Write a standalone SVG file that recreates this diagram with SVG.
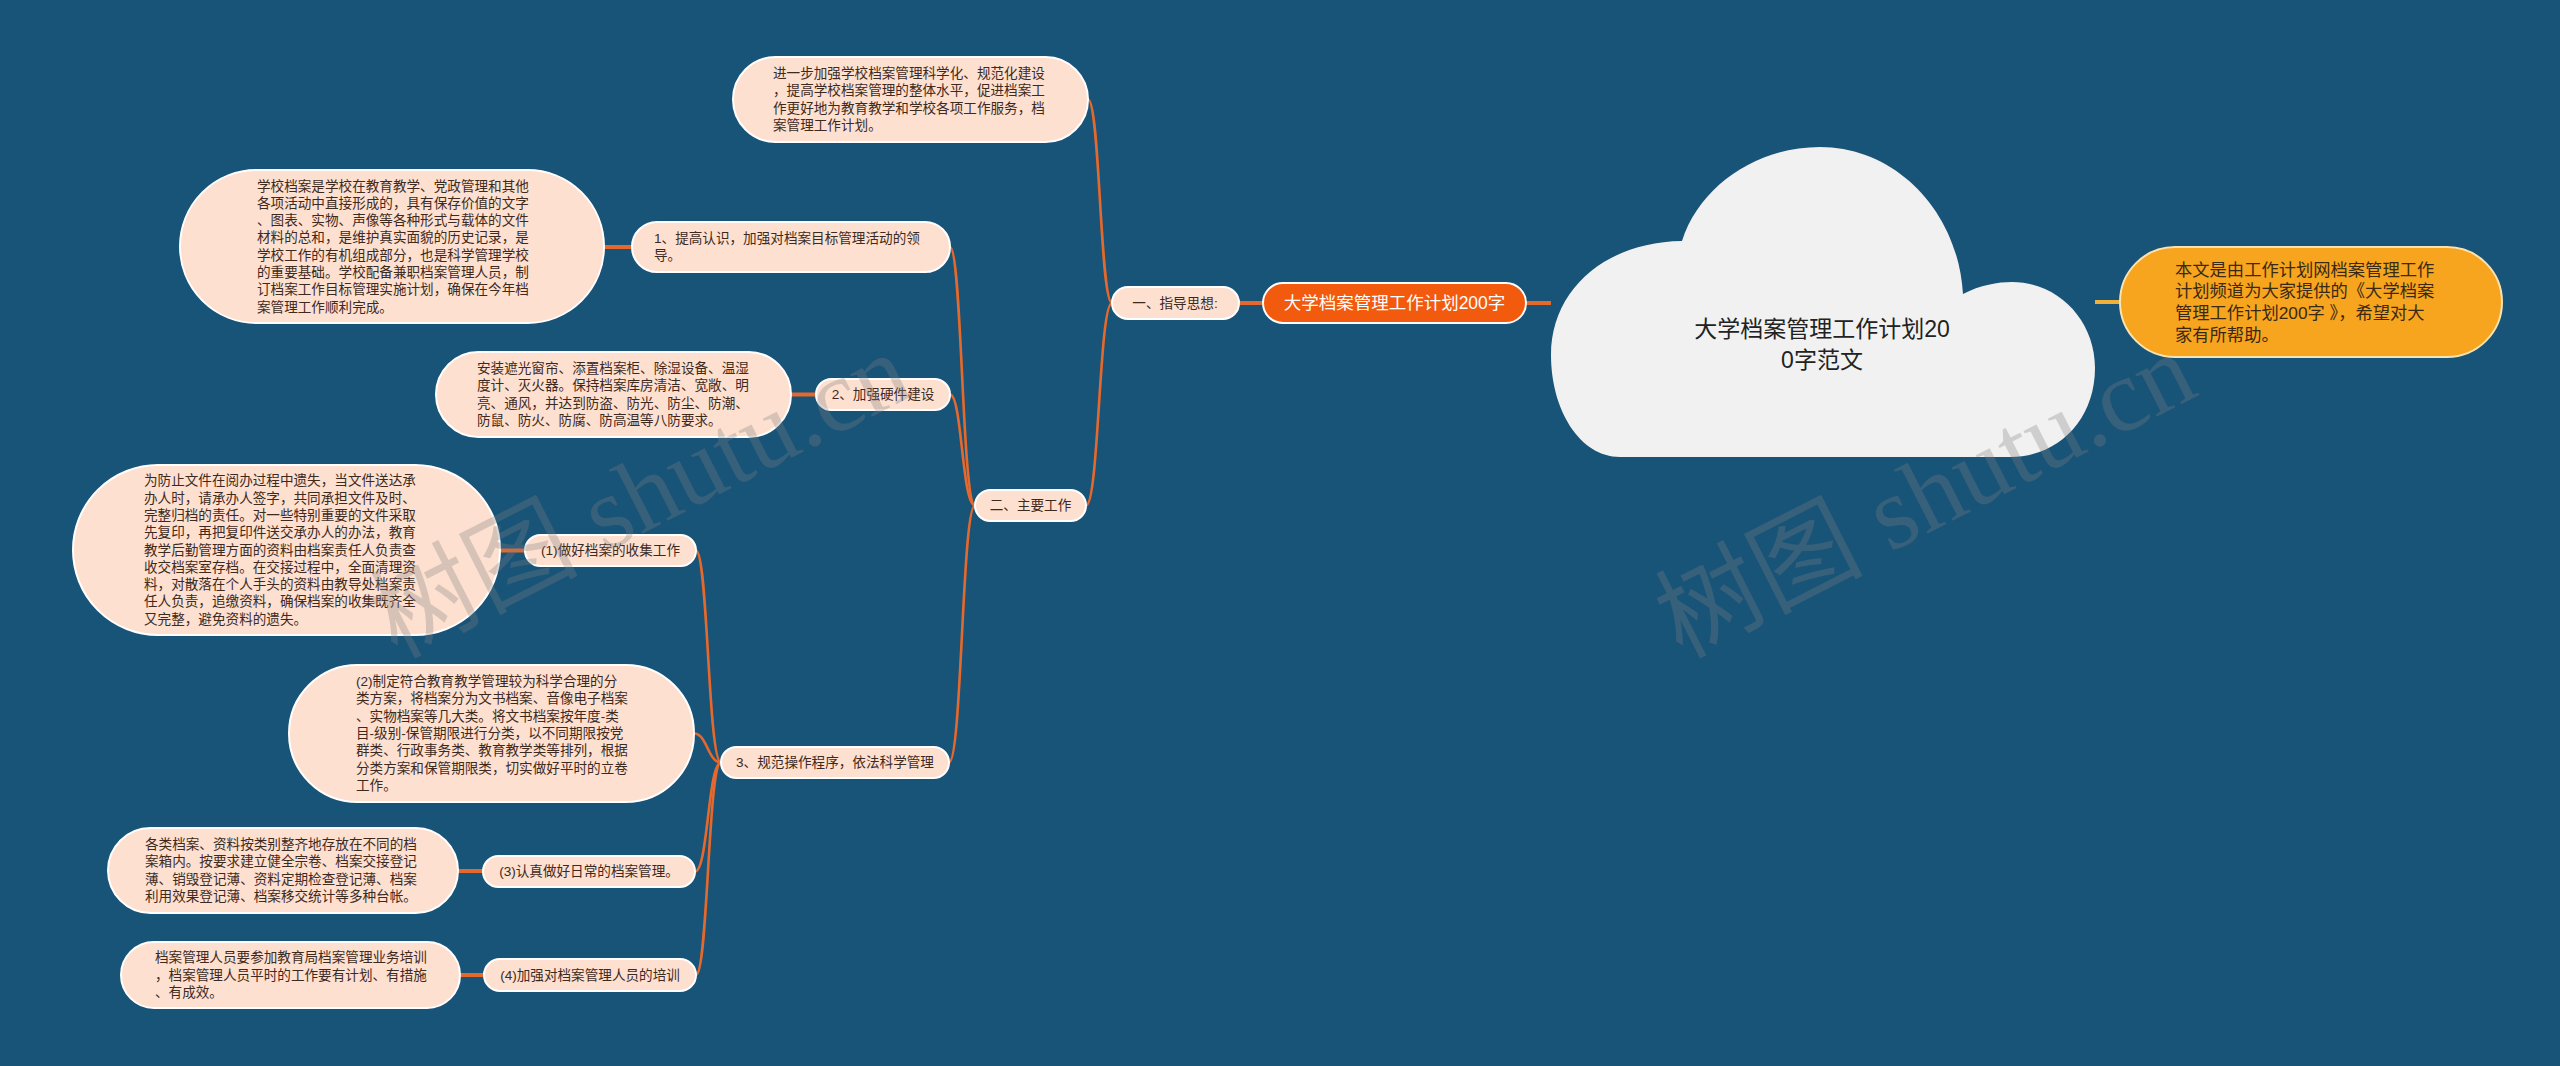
<svg xmlns="http://www.w3.org/2000/svg" width="2560" height="1066" viewBox="0 0 2560 1066">
<style>
text{font-family:"Liberation Sans","Noto Sans CJK SC",sans-serif;dominant-baseline:central}
.pill{fill:#fde0cf;stroke:#ffffff;stroke-width:2}
.t{font-size:13.6px;fill:#3d2a1e}
.tm{font-size:13.6px;fill:#3d2a1e;text-anchor:middle}
.cv{fill:none;stroke:#e5692c;stroke-width:2.6}
.st{fill:none;stroke:#e5692c;stroke-width:4}
.wm{font-family:"Liberation Serif","Noto Sans CJK SC",serif;font-size:104px;fill:#808080;opacity:0.3}
</style>
<rect x="0" y="0" width="2560" height="1066" fill="#185378"/>
<g id="connectors">
<path class="st" d="M1526 303H1551"/>
<path class="st" d="M1239 303H1263"/>
<path class="st" d="M604 247H632"/>
<path class="st" d="M791 394.5H816"/>
<path class="st" d="M500 550.5H525"/>
<path class="st" d="M458 871H483"/>
<path class="st" d="M460 975H484"/>
<path d="M2095 302H2120" fill="none" stroke="#f0b13a" stroke-width="4"/>
<path class="cv" d="M1112 303C1100 303 1100 99.5 1088 99.5"/>
<path class="cv" d="M1112 303C1099 303 1099 505.5 1086 505.5"/>
<path class="cv" d="M975 505.5C962 505.5 962 247 950 247"/>
<path class="cv" d="M975 505.5C962 505.5 962 394.5 950 394.5"/>
<path class="cv" d="M975 505.5C962 505.5 962 762.5 949 762.5"/>
<path class="cv" d="M721 762.5C708 762.5 708 550.5 696 550.5"/>
<path class="cv" d="M721 762.5C708 762.5 707 733.5 694 733.5"/>
<path class="cv" d="M721 762.5C708 762.5 708 871.5 695 871.5"/>
<path class="cv" d="M721 762.5C708 762.5 708 975 696 975"/>
</g>
<g id="root">
<path d="M1620 457C1580 457 1551 410 1551 355C1551 290 1605 242 1682 241C1700 185 1758 147 1820 147C1895 147 1958 210 1963 294C1980 285 1998 282 2012 282C2058 282 2095 320 2095 368C2095 420 2058 457 2010 457Z" fill="#f1f1f1"/>
<text x="1822" y="329" font-size="23" fill="#222" text-anchor="middle">大学档案管理工作计划20</text>
<text x="1822" y="360" font-size="23" fill="#222" text-anchor="middle">0字范文</text>
</g>
<g id="main">
<rect x="1263" y="283" width="263" height="40" rx="20" fill="#f25a0e" stroke="#ffffff" stroke-width="2"/>
<text x="1394.5" y="303" font-size="17.5" fill="#ffffff" text-anchor="middle">大学档案管理工作计划200字</text>
</g>
<g id="summary">
<rect x="2120" y="247" width="382" height="110" rx="55" fill="#f7a41e" stroke="#fbe3b0" stroke-width="2"/>
<text x="2175" y="269.5" font-size="17.3" fill="#3a2a14">本文是由工作计划网档案管理工作</text>
<text x="2175" y="291.2" font-size="17.3" fill="#3a2a14">计划频道为大家提供的《大学档案</text>
<text x="2175" y="312.8" font-size="17.3" fill="#3a2a14">管理工作计划200字 》，希望对大</text>
<text x="2175" y="334.5" font-size="17.3" fill="#3a2a14">家有所帮助。</text>
</g>
<g id="n-zhidao">
<rect class="pill" x="1112" y="287" width="127" height="32" rx="16"/>
<text class="tm" x="1175" y="303">一、指导思想:</text>
</g>
<g id="n-zhidao-leaf">
<rect class="pill" x="733" y="57" width="355" height="85" rx="42.5"/>
<text class="t" x="773" y="73.5">进一步加强学校档案管理科学化、规范化建设</text>
<text class="t" x="773" y="90.8">，提高学校档案管理的整体水平，促进档案工</text>
<text class="t" x="773" y="108.2">作更好地为教育教学和学校各项工作服务，档</text>
<text class="t" x="773" y="125.5">案管理工作计划。</text>
</g>
<g id="n-zhuyao">
<rect class="pill" x="975" y="490" width="111" height="31" rx="15.5"/>
<text class="tm" x="1030.5" y="505.5">二、主要工作</text>
</g>
<g id="n-1">
<rect class="pill" x="632" y="222" width="318" height="50" rx="25"/>
<text class="t" x="654" y="238.4" font-size="14">1、提高认识，加强对档案目标管理活动的领</text>
<text class="t" x="654" y="255.7" font-size="14">导。</text>
</g>
<g id="n-1-leaf">
<rect class="pill" x="180" y="170" width="424" height="153" rx="76.5"/>
<text class="t" x="257" y="186">学校档案是学校在教育教学、党政管理和其他</text>
<text class="t" x="257" y="203.3">各项活动中直接形成的，具有保存价值的文字</text>
<text class="t" x="257" y="220.6">、图表、实物、声像等各种形式与载体的文件</text>
<text class="t" x="257" y="237.9">材料的总和，是维护真实面貌的历史记录，是</text>
<text class="t" x="257" y="255.2">学校工作的有机组成部分，也是科学管理学校</text>
<text class="t" x="257" y="272.5">的重要基础。学校配备兼职档案管理人员，制</text>
<text class="t" x="257" y="289.8">订档案工作目标管理实施计划，确保在今年档</text>
<text class="t" x="257" y="307.1">案管理工作顺利完成。</text>
</g>
<g id="n-2">
<rect class="pill" x="816" y="379" width="134" height="31" rx="15.5"/>
<text class="tm" x="883" y="394.5">2、加强硬件建设</text>
</g>
<g id="n-2-leaf">
<rect class="pill" x="436" y="352" width="355" height="85" rx="42.5"/>
<text class="t" x="477" y="368.5">安装遮光窗帘、添置档案柜、除湿设备、温湿</text>
<text class="t" x="477" y="385.8">度计、灭火器。保持档案库房清洁、宽敞、明</text>
<text class="t" x="477" y="403.2">亮、通风，并达到防盗、防光、防尘、防潮、</text>
<text class="t" x="477" y="420.5">防鼠、防火、防腐、防高温等八防要求。</text>
</g>
<g id="n-3">
<rect class="pill" x="721" y="747" width="228" height="31" rx="15.5"/>
<text class="tm" x="835" y="762.5">3、规范操作程序，依法科学管理</text>
</g>
<g id="n-3-1">
<rect class="pill" x="525" y="535" width="171" height="31" rx="15.5"/>
<text class="tm" x="610.5" y="550.5">(1)做好档案的收集工作</text>
</g>
<g id="n-3-1-leaf">
<rect class="pill" x="73" y="465" width="427" height="170" rx="85"/>
<text class="t" x="144" y="480.8">为防止文件在阅办过程中遗失，当文件送达承</text>
<text class="t" x="144" y="498.1">办人时，请承办人签字，共同承担文件及时、</text>
<text class="t" x="144" y="515.4">完整归档的责任。对一些特别重要的文件采取</text>
<text class="t" x="144" y="532.7">先复印，再把复印件送交承办人的办法，教育</text>
<text class="t" x="144" y="550">教学后勤管理方面的资料由档案责任人负责查</text>
<text class="t" x="144" y="567.3">收交档案室存档。在交接过程中，全面清理资</text>
<text class="t" x="144" y="584.6">料，对散落在个人手头的资料由教导处档案责</text>
<text class="t" x="144" y="601.9">任人负责，追缴资料，确保档案的收集既齐全</text>
<text class="t" x="144" y="619.2">又完整，避免资料的遗失。</text>
</g>
<g id="n-3-2">
<rect class="pill" x="289" y="665" width="405" height="137" rx="68.5"/>
<text class="t" x="356" y="681.6">(2)制定符合教育教学管理较为科学合理的分</text>
<text class="t" x="356" y="698.9">类方案，将档案分为文书档案、音像电子档案</text>
<text class="t" x="356" y="716.2">、实物档案等几大类。将文书档案按年度-类</text>
<text class="t" x="356" y="733.5">目-级别-保管期限进行分类，以不同期限按党</text>
<text class="t" x="356" y="750.8">群类、行政事务类、教育教学类等排列，根据</text>
<text class="t" x="356" y="768.1">分类方案和保管期限类，切实做好平时的立卷</text>
<text class="t" x="356" y="785.4">工作。</text>
</g>
<g id="n-3-3">
<rect class="pill" x="483" y="856" width="212" height="31" rx="15.5"/>
<text class="tm" x="589" y="871.5">(3)认真做好日常的档案管理。</text>
</g>
<g id="n-3-3-leaf">
<rect class="pill" x="108" y="828" width="350" height="85" rx="42.5"/>
<text class="t" x="145" y="844.5">各类档案、资料按类别整齐地存放在不同的档</text>
<text class="t" x="145" y="861.8">案箱内。按要求建立健全宗卷、档案交接登记</text>
<text class="t" x="145" y="879.2">薄、销毁登记薄、资料定期检查登记薄、档案</text>
<text class="t" x="145" y="896.5">利用效果登记薄、档案移交统计等多种台帐。</text>
</g>
<g id="n-3-4">
<rect class="pill" x="484" y="959" width="212" height="32" rx="16"/>
<text class="tm" x="590" y="975">(4)加强对档案管理人员的培训</text>
</g>
<g id="n-3-4-leaf">
<rect class="pill" x="121" y="942" width="339" height="66" rx="33"/>
<text class="t" x="155" y="957.7">档案管理人员要参加教育局档案管理业务培训</text>
<text class="t" x="155" y="975">，档案管理人员平时的工作要有计划、有措施</text>
<text class="t" x="155" y="992.3">、有成效。</text>
</g>
<g id="watermarks">
<text class="wm" x="640" y="495" text-anchor="middle" transform="rotate(-27 640 495)">树图 shutu.cn</text>
<text class="wm" x="1925" y="495" text-anchor="middle" transform="rotate(-27 1925 495)">树图 shutu.cn</text>
</g>
</svg>
